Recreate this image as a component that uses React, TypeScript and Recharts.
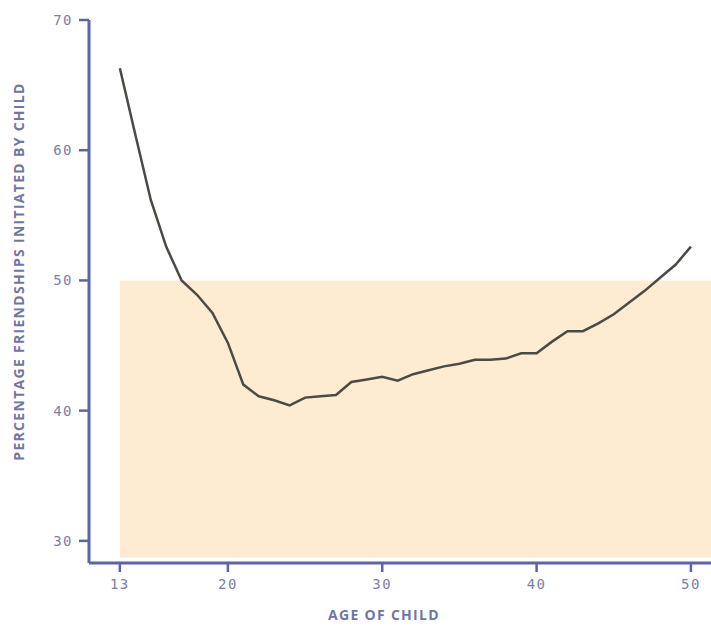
import React from 'react';
import { LineChart, Line, XAxis, YAxis, ReferenceArea, Label } from 'recharts';

const ages = [
  13, 14, 15, 16, 17, 18, 19, 20, 21, 22, 23, 24, 25, 26, 27, 28, 29, 30, 31,
  32, 33, 34, 35, 36, 37, 38, 39, 40, 41, 42, 43, 44, 45, 46, 47, 48, 49, 50,
];
const initiated = [
  66.3, 61.2, 56.2, 52.6, 50.0, 48.9, 47.5, 45.2, 42.0, 41.1, 40.8, 40.4, 41.0,
  41.1, 41.2, 42.2, 42.4, 42.6, 42.3, 42.8, 43.1, 43.4, 43.6, 43.9, 43.9, 44.0,
  44.4, 44.4, 45.3, 46.1, 46.1, 46.7, 47.4, 48.3, 49.2, 50.2, 51.2, 52.6,
];
const xTicks = [13, 20, 30, 40, 50];
const yTicks = [30, 40, 50, 60, 70];

const data = ages.map((age, i) => ({ age, value: initiated[i] }));

const AXIS = '#5d64a6';
const TICK_TEXT = '#7b80a3';
const TITLE = '#6f76a4';
const FONT_MONO = 'DejaVu Sans Mono';
const titleStyle = { fill: TITLE, fontSize: 14, fontWeight: 'bold', fontFamily: 'Open Sans', letterSpacing: 1.3 };

// y-axis title, drawn rotated a bit above the plot's middle
const YTitle = ({ viewBox }: any) => {
  const x = 18;
  const y = viewBox.y + viewBox.height / 2 - 20;
  return (
    <text x={x} y={y} transform={`rotate(-90, ${x}, ${y})`} textAnchor="middle" dominantBaseline="central" style={titleStyle}>
      PERCENTAGE FRIENDSHIPS INITIATED BY CHILD
    </text>
  );
};

export default function App() {
  return (
    <div style={{ position: 'absolute', left: 0, top: 0, background: '#fff' }}>
      <LineChart width={711} height={628} data={data} margin={{ top: 20, right: 0, bottom: 0, left: 0 }}>
        <ReferenceArea x1={13} x2={51.3} y1={28.7} y2={50} fill="#fdecd2" fillOpacity={1} stroke="none" />
        <XAxis
          dataKey="age"
          type="number"
          domain={[11, 51.3]}
          ticks={xTicks}
          allowDataOverflow
          height={65}
          stroke={AXIS}
          strokeWidth={3}
          tickSize={9}
          tickMargin={7}
          tickLine={{ stroke: AXIS, strokeWidth: 2.5 }}
          tick={{ fill: TICK_TEXT, fontSize: 14, fontFamily: FONT_MONO, letterSpacing: 1.5 }}
        >
          <Label value="AGE OF CHILD" position="insideBottom" offset={8} dx={-16} style={titleStyle} />
        </XAxis>
        <YAxis
          type="number"
          domain={[28.3, 70]}
          ticks={yTicks}
          allowDataOverflow
          width={89}
          stroke={AXIS}
          strokeWidth={3}
          tickSize={10}
          tickMargin={6}
          tickLine={{ stroke: AXIS, strokeWidth: 2.5 }}
          tick={{ fill: TICK_TEXT, fontSize: 14, fontFamily: FONT_MONO, letterSpacing: 1.5 }}
        >
          <Label content={YTitle} />
        </YAxis>
        <Line
          dataKey="value"
          type="linear"
          stroke="#4b4a45"
          strokeWidth={2.5}
          dot={false}
          isAnimationActive={false}
        />
      </LineChart>
    </div>
  );
}
